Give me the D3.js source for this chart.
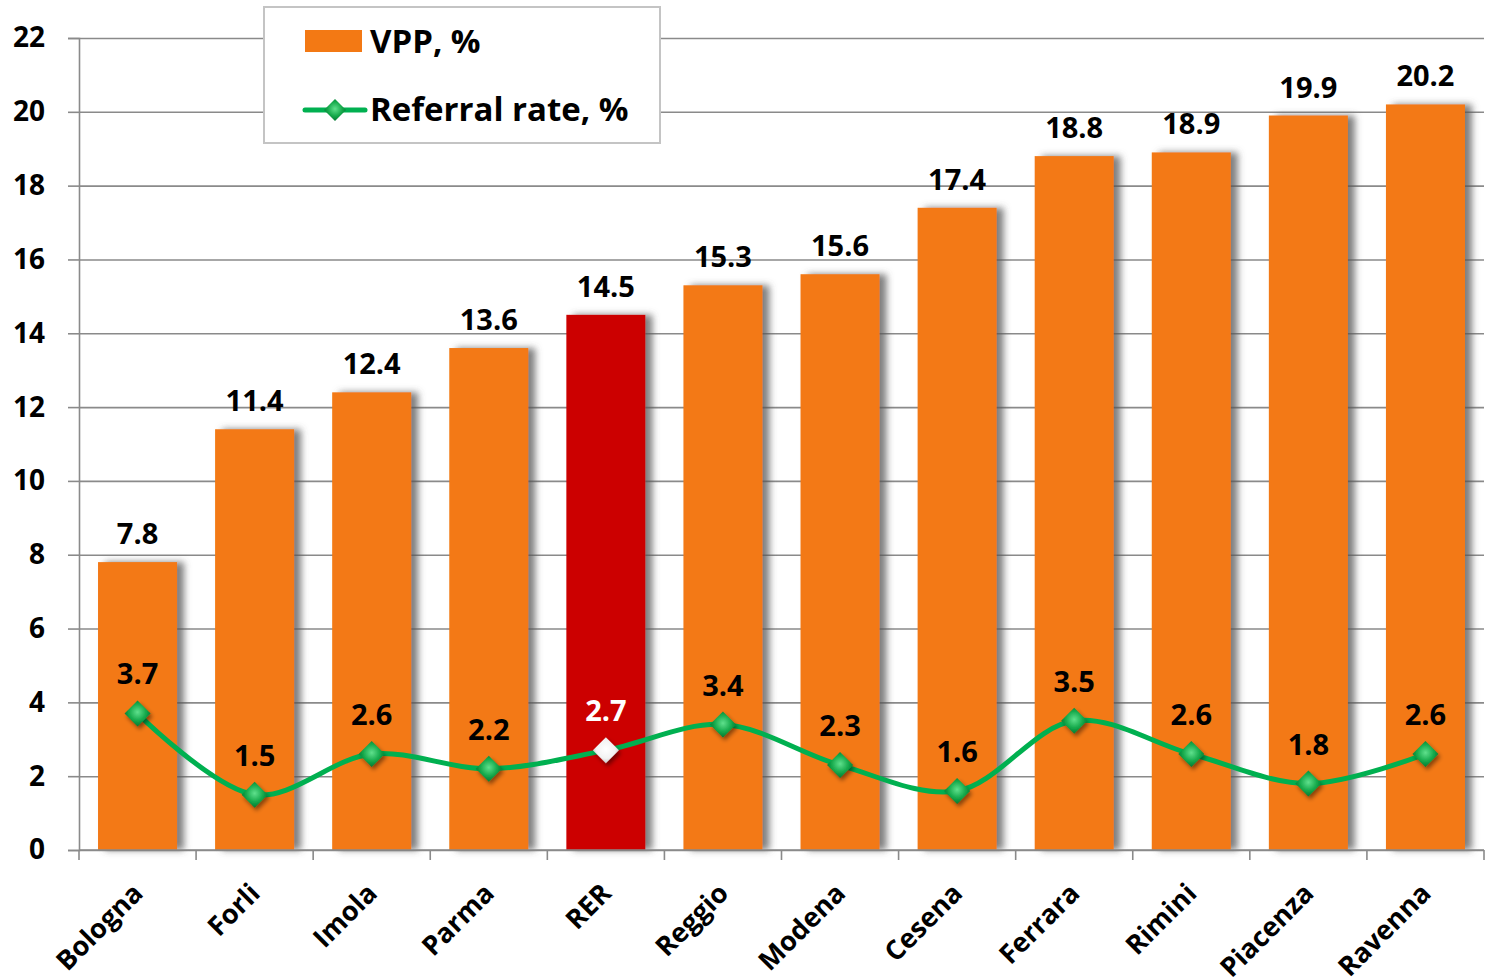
<!DOCTYPE html>
<html>
<head>
<meta charset="utf-8">
<script src="https://cdn.jsdelivr.net/npm/d3@7"></script>
<style>
  body { margin: 0; background: #fff; }
  svg { display: block; }
  .num { font-family: "Open Sans", sans-serif; font-weight: 700; }
</style>
</head>
<body>
<svg id="chart" width="1487" height="979"></svg>
<script>
// Data
const regionsList = ['Bologna', 'Forli', 'Imola', 'Parma', 'RER', 'Reggio', 'Modena', 'Cesena', 'Ferrara', 'Rimini', 'Piacenza', 'Ravenna'];
const vppValues = [7.8, 11.4, 12.4, 13.6, 14.5, 15.3, 15.6, 17.4, 18.8, 18.9, 19.9, 20.2];
const referralValues = [3.7, 1.5, 2.6, 2.2, 2.7, 3.4, 2.3, 1.6, 3.5, 2.6, 1.8, 2.6];
const yTicks = [0, 2, 4, 6, 8, 10, 12, 14, 16, 18, 20, 22];
const highlight = 'RER';

const rows = regionsList.map((name, i) => ({ name, vpp: vppValues[i], ref: referralValues[i] }));

const svg = d3.select('#chart');
const margin = { left: 79, right: 3, top: 38, bottom: 129 };
const width = 1487, height = 979;
const innerWidth = width - margin.left - margin.right;
const innerHeight = height - margin.top - margin.bottom;

const orange = '#f37914';
const red = '#cc0000';
const green = '#00b050';

// Defs: shadows and marker gradients
const defs = svg.append('defs');
const shadow = defs.append('filter').attr('id', 'barShadow')
    .attr('x', '-20%').attr('y', '-5%').attr('width', '150%').attr('height', '110%');
shadow.append('feDropShadow')
    .attr('dx', 7).attr('dy', 0).attr('stdDeviation', 3.5)
    .attr('flood-color', '#555').attr('flood-opacity', 0.75);

const mShadow = defs.append('filter').attr('id', 'markShadow')
    .attr('x', '-50%').attr('y', '-50%').attr('width', '200%').attr('height', '200%');
mShadow.append('feDropShadow')
    .attr('dx', 2).attr('dy', 3).attr('stdDeviation', 2)
    .attr('flood-color', '#000').attr('flood-opacity', 0.45);

const gGrad = defs.append('radialGradient').attr('id', 'greenDia').attr('cx', '50%').attr('cy', '45%').attr('r', '60%');
gGrad.append('stop').attr('offset', '0%').attr('stop-color', '#5fe08c');
gGrad.append('stop').attr('offset', '55%').attr('stop-color', '#14a84a');
gGrad.append('stop').attr('offset', '100%').attr('stop-color', '#006b2c');

const wGrad = defs.append('radialGradient').attr('id', 'whiteDia').attr('cx', '50%').attr('cy', '45%').attr('r', '60%');
wGrad.append('stop').attr('offset', '0%').attr('stop-color', '#ffffff');
wGrad.append('stop').attr('offset', '60%').attr('stop-color', '#f2f2f2');
wGrad.append('stop').attr('offset', '100%').attr('stop-color', '#bdbdbd');

const g = svg.append('g').attr('transform', `translate(${margin.left},${margin.top})`);

// Scales
const xScale = d3.scaleBand()
    .domain(regionsList)
    .range([0, innerWidth])
    .paddingInner(0.325)
    .paddingOuter(0.1625);

const yScale = d3.scaleLinear()
    .domain([0, 22])
    .range([innerHeight, 0]);

// Grid
g.append('g')
    .call(d3.axisLeft(yScale).tickValues(yTicks).tickSize(-innerWidth).tickFormat(''))
    .call(s => s.select('.domain').remove())
    .call(s => s.selectAll('line').attr('stroke', '#8a8a8a').attr('stroke-width', 1.6));

// Y axis
const yAxis = g.append('g')
    .call(d3.axisLeft(yScale).tickValues(yTicks).tickSize(11).tickPadding(23));
yAxis.select('.domain').attr('stroke', '#8a8a8a').attr('stroke-width', 1.6);
yAxis.selectAll('line').attr('stroke', '#8a8a8a').attr('stroke-width', 1.6);
yAxis.selectAll('text')
    .attr('class', 'num')
    .attr('font-size', 28)
    .attr('fill', '#000');

// Bars
g.selectAll('.bar')
    .data(rows)
    .join('rect')
    .attr('class', 'bar')
    .attr('x', d => xScale(d.name))
    .attr('y', d => yScale(d.vpp))
    .attr('width', xScale.bandwidth())
    .attr('height', d => innerHeight - yScale(d.vpp))
    .attr('fill', d => d.name === highlight ? red : orange)
    .attr('filter', 'url(#barShadow)');

// X axis (ticks at band boundaries)
const xEdges = d3.range(regionsList.length + 1).map(i => i * xScale.step());
const xAxis = g.append('g').attr('transform', `translate(0,${innerHeight})`);
xAxis.append('line')
    .attr('x1', 0).attr('x2', innerWidth)
    .attr('stroke', '#8a8a8a').attr('stroke-width', 1.6);
xAxis.selectAll('.xtick')
    .data(xEdges)
    .join('line')
    .attr('x1', d => d).attr('x2', d => d)
    .attr('y1', 0).attr('y2', 10)
    .attr('stroke', '#8a8a8a').attr('stroke-width', 1.6);

xAxis.selectAll('.xlabel')
    .data(regionsList)
    .join('text')
    .attr('class', 'num')
    .attr('text-anchor', 'end')
    .attr('font-size', 27)
    .attr('transform', d => `translate(${xScale(d) + xScale.bandwidth() / 2 + 7},${45}) rotate(-45)`)
    .text(d => d);

// Bar value labels
g.selectAll('.vlabel')
    .data(rows)
    .join('text')
    .attr('class', 'num')
    .attr('text-anchor', 'middle')
    .attr('font-size', 29)
    .attr('x', d => xScale(d.name) + xScale.bandwidth() / 2)
    .attr('y', d => yScale(d.vpp) - 18)
    .text(d => d.vpp.toFixed(1));

// Referral line
const cx = d => xScale(d.name) + xScale.bandwidth() / 2;
const line = d3.line()
    .x(cx)
    .y(d => yScale(d.ref))
    .curve(d3.curveCatmullRom.alpha(0.5));

g.append('path')
    .datum(rows)
    .attr('d', line)
    .attr('fill', 'none')
    .attr('stroke', green)
    .attr('stroke-width', 5);

const dia = 13;
g.selectAll('.marker')
    .data(rows)
    .join('path')
    .attr('d', `M0,${-dia}L${dia},0L0,${dia}L${-dia},0Z`)
    .attr('transform', d => `translate(${cx(d)},${yScale(d.ref)})`)
    .attr('fill', d => d.name === highlight ? 'url(#whiteDia)' : 'url(#greenDia)')
    .attr('filter', 'url(#markShadow)');

g.selectAll('.rlabel')
    .data(rows)
    .join('text')
    .attr('class', 'num')
    .attr('text-anchor', 'middle')
    .attr('font-size', 29)
    .attr('x', cx)
    .attr('y', d => yScale(d.ref) - 29)
    .attr('fill', d => d.name === highlight ? '#fff' : '#000')
    .text(d => d.ref.toFixed(1));

// Legend
const legend = svg.append('g').attr('transform', 'translate(264,7)');
legend.append('rect')
    .attr('width', 396).attr('height', 136)
    .attr('fill', '#fff').attr('stroke', '#c4c4c4').attr('stroke-width', 2);
legend.append('rect')
    .attr('x', 41).attr('y', 23).attr('width', 57).attr('height', 22)
    .attr('fill', orange);
legend.append('text')
    .attr('class', 'num').attr('font-size', 33)
    .attr('x', 106).attr('y', 46)
    .text('VPP, %');
legend.append('line')
    .attr('x1', 41).attr('x2', 101).attr('y1', 103).attr('y2', 103)
    .attr('stroke', green).attr('stroke-width', 5).attr('stroke-linecap', 'round');
legend.append('path')
    .attr('d', `M0,-11L11,0L0,11L-11,0Z`)
    .attr('transform', 'translate(71,103)')
    .attr('fill', 'url(#greenDia)');
legend.append('text')
    .attr('class', 'num').attr('font-size', 33)
    .attr('x', 106).attr('y', 114)
    .text('Referral rate, %');
</script>
</body>
</html>
